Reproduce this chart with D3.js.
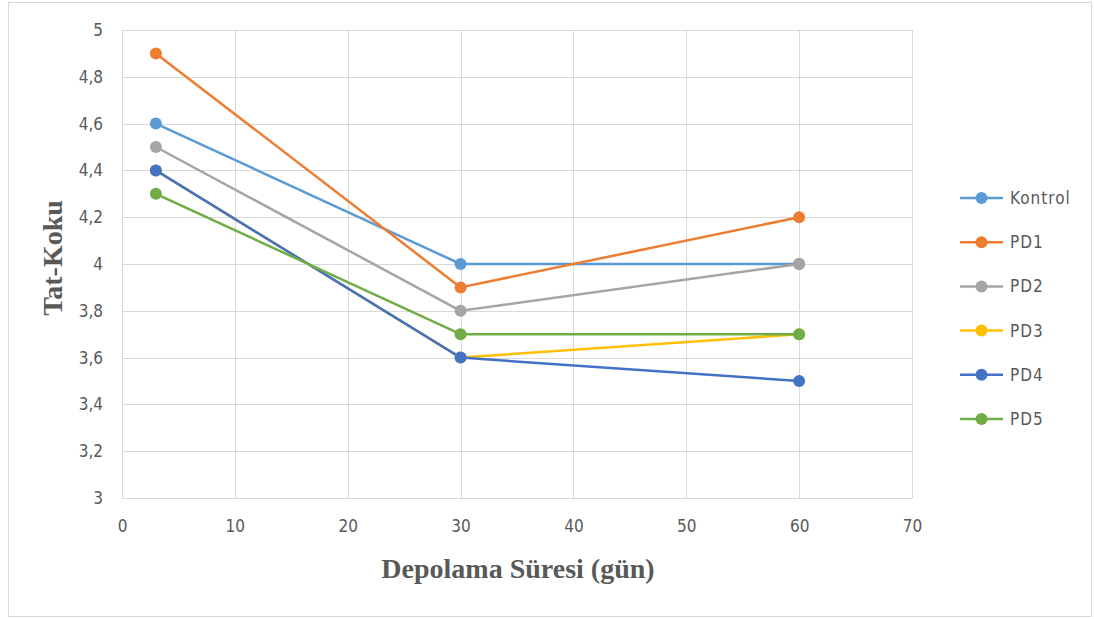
<!DOCTYPE html>
<html><head><meta charset="utf-8">
<script src="https://cdn.jsdelivr.net/npm/d3@7"></script>
<style>body{margin:0;background:#fff}</style>
</head><body><svg id="c" width="1094" height="619"></svg>
<script>
const xValues = [3, 30, 60];
const seriesNames = ["Kontrol", "PD1", "PD2", "PD3", "PD4", "PD5"];
const kontrol = [4.6, 4.0, 4.0];
const pd1 = [4.9, 3.9, 4.2];
const pd2 = [4.5, 3.8, 4.0];
const pd3 = [4.4, 3.6, 3.7];
const pd4 = [4.4, 3.6, 3.5];
const pd5 = [4.3, 3.7, 3.7];
const seriesColors = ["#5B9BD5", "#ED7D31", "#A5A5A5", "#FFC000", "#4472C4", "#70AD47"];
const xTicks = [0, 10, 20, 30, 40, 50, 60, 70];
const yTicks = [3, 3.2, 3.4, 3.6, 3.8, 4, 4.2, 4.4, 4.6, 4.8, 5];
const xTitle = "Depolama Süresi (gün)";
const yTitle = "Tat-Koku";

const series = [kontrol, pd1, pd2, pd3, pd4, pd5].map((v, i) => ({name: seriesNames[i], values: v, color: seriesColors[i]}));

const svg = d3.select("#c");
const tickFont = "'DejaVu Sans Condensed','Liberation Sans Narrow',sans-serif";
svg.append("rect").attr("x", 8.5).attr("y", 2.5).attr("width", 1083).attr("height", 614)
  .attr("fill", "#fff").attr("stroke", "#d9d9d9").attr("stroke-width", 1);

const L = 122, R = 912, T = 30, B = 498;
const x = d3.scaleLinear().domain([0, 70]).range([L, R]);
const y = d3.scaleLinear().domain([3, 5]).range([B, T]);

const g = svg.append("g");
g.selectAll(".hg").data(yTicks).join("line")
  .attr("x1", L).attr("x2", R).attr("y1", d => Math.round(y(d)) + 0.5).attr("y2", d => Math.round(y(d)) + 0.5)
  .attr("stroke", "#d9d9d9").attr("stroke-width", 1);
g.selectAll(".vg").data(xTicks).join("line")
  .attr("y1", T).attr("y2", B).attr("x1", d => Math.round(x(d)) + 0.5).attr("x2", d => Math.round(x(d)) + 0.5)
  .attr("stroke", "#d9d9d9").attr("stroke-width", 1);

const fmt = d => String(+d.toFixed(1)).replace(".", ",");
const yAxis = d3.axisLeft(y).tickValues(yTicks).tickFormat(fmt).tickSize(0).tickPadding(19);
const yg = svg.append("g").attr("transform", `translate(${L},0)`).call(yAxis);
const xAxis = d3.axisBottom(x).tickValues(xTicks).tickFormat(d => d).tickSize(0).tickPadding(22);
const xg = svg.append("g").attr("transform", `translate(0,${B})`).call(xAxis);
[yg, xg].forEach(a => {
  a.select(".domain").remove();
  a.selectAll("text").attr("fill", "#595959").style("font-family", tickFont).style("font-size", "17px");
});

const line = d3.line().x((d, i) => x(xValues[i])).y(d => y(d));
series.forEach(s => {
  svg.append("path").datum(s.values).attr("d", line).attr("fill", "none")
    .attr("stroke", s.color).attr("stroke-width", 2.5).attr("stroke-linejoin", "round");
  svg.selectAll(null).data(s.values).join("circle")
    .attr("cx", (d, i) => x(xValues[i])).attr("cy", d => y(d)).attr("r", 6).attr("fill", s.color);
});

svg.append("text").attr("x", 518).attr("y", 578).attr("text-anchor", "middle")
  .style("font-family", "'Liberation Serif','Times New Roman',serif").style("font-weight", "bold")
  .style("font-size", "28px").attr("fill", "#595959").text(xTitle);
svg.append("text").attr("transform", "translate(62,258) rotate(-90)").attr("text-anchor", "middle")
  .style("font-family", "'Liberation Serif','Times New Roman',serif").style("font-weight", "bold")
  .style("font-size", "28px").attr("fill", "#595959").text(yTitle);

const lg = svg.append("g");
series.forEach((s, i) => {
  const yy = 198 + i * 44.2;
  lg.append("line").attr("x1", 960).attr("x2", 1003).attr("y1", yy).attr("y2", yy).attr("stroke", s.color).attr("stroke-width", 2.5);
  lg.append("circle").attr("cx", 981.5).attr("cy", yy).attr("r", 6).attr("fill", s.color);
  lg.append("text").attr("x", 1010).attr("y", yy).attr("dy", "0.35em").attr("fill", "#595959")
    .style("font-family", tickFont).style("font-size", "17px").style("letter-spacing", "1px").text(s.name);
});
</script></body></html>
